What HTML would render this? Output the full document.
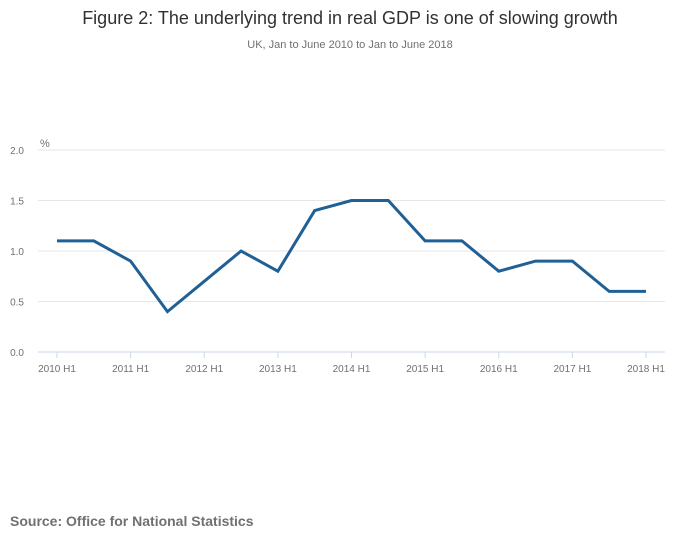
<!DOCTYPE html>
<html><head><meta charset="utf-8"><style>
body{margin:0;background:#fff;width:700px;height:549px;overflow:hidden;font-family:"Liberation Sans",sans-serif;}
</style></head><body>
<svg id="chart" width="700" height="549" xmlns="http://www.w3.org/2000/svg">
<text x="350" y="24" text-anchor="middle" font-size="18" fill="#323132">Figure 2: The underlying trend in real GDP is one of slowing growth</text>
<text x="350" y="48" text-anchor="middle" font-size="11" fill="#707071">UK, Jan to June 2010 to Jan to June 2018</text>
<text x="40" y="147" font-size="11" fill="#707071">%</text>
<g id="grid"></g><g id="xaxis"></g><g id="series"></g>
<text x="10" y="526" font-size="14" font-weight="bold" fill="#707071">Source: Office for National Statistics</text>
</svg>
<script>
const categories=["2010 H1","2010 H2","2011 H1","2011 H2","2012 H1","2012 H2","2013 H1","2013 H2","2014 H1","2014 H2","2015 H1","2015 H2","2016 H1","2016 H2","2017 H1","2017 H2","2018 H1"];
const values=[1.1,1.1,0.9,0.4,0.7,1.0,0.8,1.4,1.5,1.5,1.1,1.1,0.8,0.9,0.9,0.6,0.6];
const yTicks=[0,0.5,1.0,1.5,2.0];
const yTickLabels=["0.0","0.5","1.0","1.5","2.0"];
const xTickLabels=["2010 H1","2011 H1","2012 H1","2013 H1","2014 H1","2015 H1","2016 H1","2017 H1","2018 H1"];
const NS="http://www.w3.org/2000/svg";
const x0=57,x1=646,yb=352,yt=150,left=38,right=665;
const xs=i=>x0+(x1-x0)*i/(categories.length-1);
const ys=v=>yb-(yb-yt)*v/2;
function mk(t,a,p){const e=document.createElementNS(NS,t);for(const k in a)e.setAttribute(k,a[k]);p.appendChild(e);return e;}
const g=document.getElementById('grid');
yTicks.forEach((v,i)=>{
 const l=mk('line',{x1:left,x2:right,y1:ys(v),y2:ys(v),stroke:v===0?'#ccd6eb':'#e6e6e6','stroke-width':1},g);
 
 
 const t=mk('text',{x:24,y:ys(v)+4,'text-anchor':'end','font-size':10,fill:'#707071'},g);
 t.textContent=yTickLabels[i];
 
 
});
const xa=document.getElementById('xaxis');
xTickLabels.forEach(lab=>{
 const i=categories.indexOf(lab);const x=xs(i);
 const k=mk('line',{x1:x,x2:x,y1:yb,y2:yb+6,stroke:'#ccd6eb'},xa);
 
 
 const t=mk('text',{x:x,y:yb+20,'text-anchor':'middle','font-size':10,fill:'#707071'},xa);
 t.textContent=lab;
 
 
});
const p=mk('polyline',{points:values.map((v,i)=>xs(i)+','+ys(v)).join(' '),fill:'none',stroke:'#206095','stroke-width':3,'stroke-linejoin':'miter'},document.getElementById('series'));


</script>
</body></html>
